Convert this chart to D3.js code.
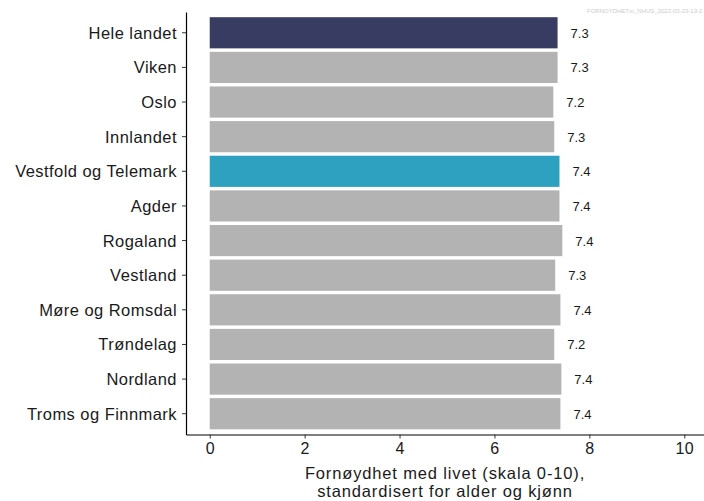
<!DOCTYPE html>
<meta charset="utf-8">
<style>
  body { margin: 0; background: #fff; }
  svg { font-family: "Liberation Sans", Arial, sans-serif; }
  .cat text { font-size: 16.5px; letter-spacing: 0.45px; fill: #1a1a1a; }
  .xax text { font-size: 16px; letter-spacing: 0.3px; fill: #1a1a1a; }
  .val { font-size: 13px; fill: #1a1a1a; }
  .title { font-size: 16.5px; letter-spacing: 0.85px; fill: #1a1a1a; }
</style>
<body>
<script src="https://d3js.org/d3.v7.min.js"></script>
<script>
// Data
const regions = ['Hele landet', 'Viken', 'Oslo', 'Innlandet', 'Vestfold og Telemark', 'Agder',
  'Rogaland', 'Vestland', 'Møre og Romsdal', 'Trøndelag', 'Nordland', 'Troms og Finnmark'];
const values = [7.33, 7.33, 7.24, 7.26, 7.37, 7.37, 7.43, 7.28, 7.39, 7.26, 7.41, 7.39];
const labels = ['7.3', '7.3', '7.2', '7.3', '7.4', '7.4', '7.4', '7.3', '7.4', '7.2', '7.4', '7.4'];
const xTicks = [0, 2, 4, 6, 8, 10];

const width = 704, height = 501;
const padL = 186, padR = 708, padT = 12, padB = 434.5;

const colorFor = name => name === 'Hele landet' ? '#383c63'
  : name === 'Vestfold og Telemark' ? '#2ea1c1' : '#b3b3b3';

const svg = d3.select('body').append('svg')
    .attr('width', width)
    .attr('height', height);

const x = d3.scaleLinear().domain([-0.5, 10.5]).range([padL, padR]);
const y = d3.scaleBand().domain(regions).range([padT, padB])
    .paddingInner(0.1).paddingOuter(0.15);

// watermark
svg.append('text')
    .attr('x', 587).attr('y', 13)
    .style('font-size', '6px').style('fill', '#cccccc')
    .text('FORNOYDHETm_NHUS_2022-03-23-13-2');

// bars
svg.selectAll('.bar')
  .data(regions)
  .enter()
  .append('rect')
    .attr('class', 'bar')
    .attr('x', x(0))
    .attr('y', d => y(d))
    .attr('width', (d, i) => x(values[i]) - x(0))
    .attr('height', y.bandwidth())
    .attr('fill', d => colorFor(d));

// value labels
svg.selectAll('.val')
  .data(regions)
  .enter()
  .append('text')
    .attr('class', 'val')
    .attr('x', (d, i) => x(values[i]) + 13)
    .attr('y', d => y(d) + y.bandwidth() / 2)
    .attr('dy', '0.38em')
    .text((d, i) => labels[i]);

// y axis
const yAxis = svg.append('g')
    .attr('class', 'cat')
    .attr('transform', `translate(${padL},0)`)
    .call(d3.axisLeft(y).tickSize(4).tickPadding(5).tickSizeOuter(0));
yAxis.select('.domain').attr('stroke', '#000').attr('stroke-width', 1.2);
yAxis.selectAll('.tick line').attr('stroke', '#333');
yAxis.selectAll('.tick text').attr('dy', '0.36em');

// x axis
const xAxis = svg.append('g')
    .attr('class', 'xax')
    .attr('transform', `translate(0,${padB})`)
    .call(d3.axisBottom(x).tickValues(xTicks).tickSize(4).tickPadding(4).tickSizeOuter(0));
xAxis.select('.domain').attr('stroke', '#000').attr('stroke-width', 1.2);
xAxis.selectAll('.tick line').attr('stroke', '#333');

// axis title
const cx = (padL + width) / 2;
svg.append('text').attr('class', 'title')
    .attr('x', cx).attr('y', 479).attr('text-anchor', 'middle')
    .text('Fornøydhet med livet (skala 0-10),');
svg.append('text').attr('class', 'title')
    .attr('x', cx).attr('y', 497).attr('text-anchor', 'middle')
    .text('standardisert for alder og kjønn');
</script>
